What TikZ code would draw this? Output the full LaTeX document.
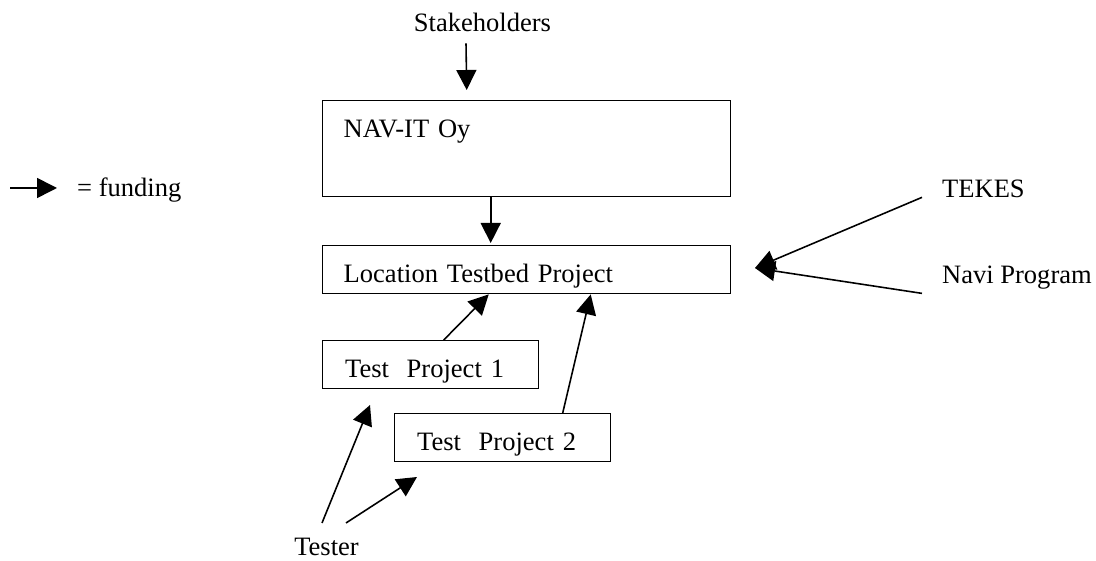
\documentclass[tikz,border=0pt]{standalone}
\usepackage{fontspec}
\setmainfont{Liberation Serif}
\usetikzlibrary{arrows.meta,calc}

\begin{document}
\begin{tikzpicture}[
        font=\fontsize{15.1}{18}\selectfont,
        fund/.style={-{Triangle[length=0.4cm,width=0.4cm]}, line width=0.9pt},
        orgbox/.style={draw, line width=0.8pt, anchor=north west, align=left,
            inner xsep=0.42cm, inner ysep=0pt, text height=0.73cm, text depth=0.23cm},
        label/.style={inner sep=0.176cm}
    ]
            \useasboundingbox (0,0) rectangle (21.92,11.2);

            % boxes
            \node[orgbox, text width=7.32cm, text depth=1.19cm] (nav) at (6.44,9.20) {NAV-IT Oy};
            \node[orgbox, text width=7.32cm] (ltp) at (6.44,6.30) {Location Testbed Project};
            \node[orgbox, text width=3.42cm, inner xsep=0.45cm] (tp1) at (6.44,4.40) {Test\ \ Project 1};
            \node[orgbox, text width=3.42cm, inner xsep=0.45cm] (tp2) at (7.88,2.94) {Test\ \ Project 2};

            % funders
            \node[label, anchor=base] (stake) at (9.65,10.56) {Stakeholders};
            \node[label, anchor=base west] (tekes) at (18.66,7.24) {TEKES};
            \node[label, anchor=base west] (navi) at (18.66,5.52) {Navi Program};
            \node[label, anchor=base] (tester) at (6.53,0.09) {Tester};
            \node[label, anchor=base west] (legend) at (1.36,7.26) {= funding};

            \coordinate (fin) at (15.10,5.84);
            \coordinate (tp1in) at (7.40,3.10);
            \coordinate (tp2in) at (8.34,1.66);
            \coordinate (legstart) at (0.20,7.44);

            % funding arrows
            \draw[fund] ($(stake.south)+(-0.33,-0.04)$) -- ($(nav.north)+(-1.20,0.20)$);
            \draw[fund] ($(nav.south)+(-0.72,0)$) -- ($(ltp.north)+(-0.72,0.04)$);
            \draw[fund] ($(tp1.north)+(0.26,0)$) -- ($(ltp.south)+(-0.76,0)$);
            \draw[fund] ($(tp2.north)+(1.20,0)$) -- ($(ltp.south)+(1.28,0)$);
            \draw[fund] ($(tekes.west)+(-0.22,-0.16)$) -- (fin);
            \draw[fund] ($(navi.south west)+(-0.22,0.11)$) -- (fin);
            \draw[fund] ($(tester.north)+(-0.09,0.12)$) -- (tp1in);
            \draw[fund] ($(tester.north)+(0.39,0.12)$) -- (tp2in);
            \draw[fund] (legstart) -- ($(legstart -| legend.west)+(-0.22,0)$);
\end{tikzpicture}
\end{document}
